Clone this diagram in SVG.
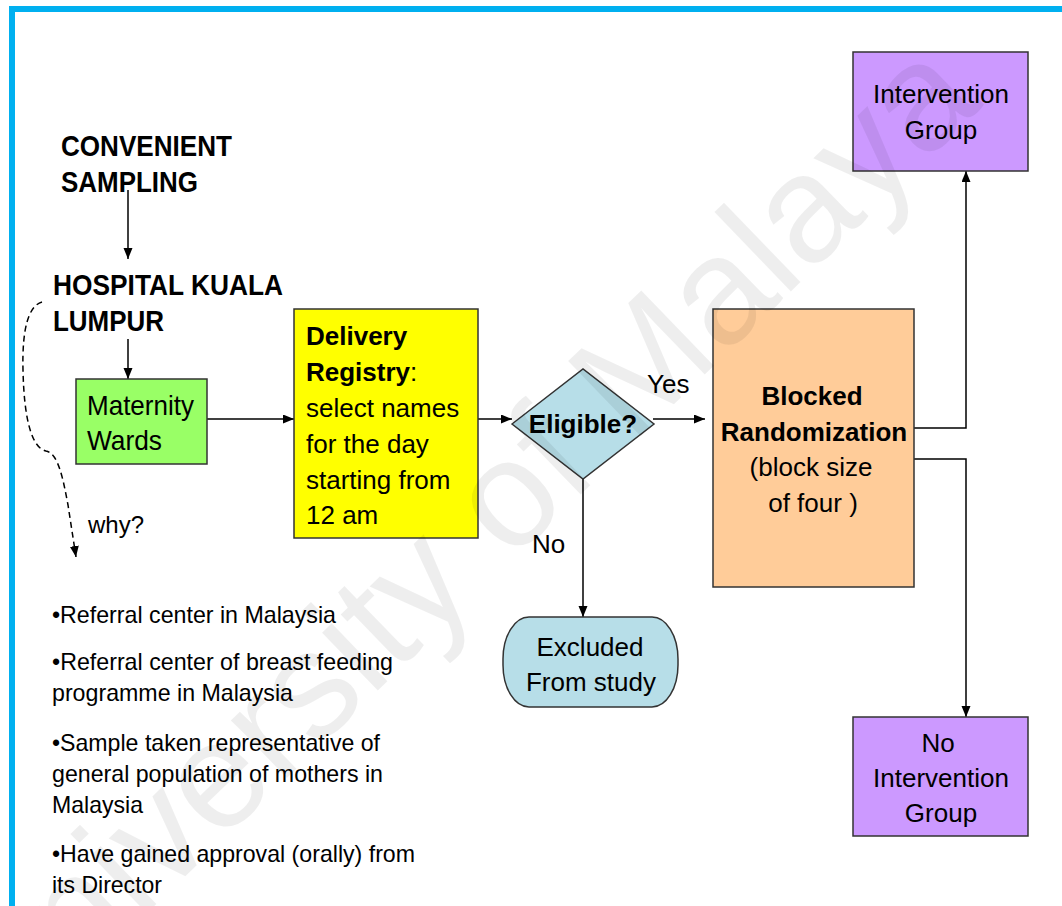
<svg xmlns="http://www.w3.org/2000/svg" width="1062" height="906" viewBox="0 0 1062 906">
  <defs>
    <marker id="arrow" markerUnits="userSpaceOnUse" markerWidth="12" markerHeight="10" refX="11" refY="4.5" orient="auto">
      <path d="M0,0 L11,4.5 L0,9 z" fill="#000"/>
    </marker>
    <style>
      text { font-family: "Liberation Sans", Arial, sans-serif; fill: #000; }
      .head { font-size: 30px; font-weight: bold; }
      .body { font-size: 26px; }
      .bold { font-weight: bold; }
      .note { font-size: 24px; }
      .box { stroke: #333; stroke-width: 1.5; }
      .wire { fill: none; stroke: #000; stroke-width: 1.5; }
      .mark { fill: none; stroke: #000; stroke-width: 1.5; marker-end: url(#arrow); }
    </style>
  </defs>

  <rect width="1062" height="906" fill="#fff"/>
  <!-- frame -->
  <rect x="9" y="6" width="6" height="900" fill="#00b0f0"/>
  <rect x="9" y="6" width="1053" height="6" fill="#00b0f0"/>

  <!-- connectors -->
  <g id="connectors">
    <line class="mark" x1="128" y1="190" x2="128" y2="259"/>
    <line class="mark" x1="128" y1="339" x2="128" y2="379"/>
    <line class="mark" x1="207" y1="419" x2="294" y2="419"/>
    <line class="mark" x1="478" y1="419" x2="512" y2="419"/>
    <line class="mark" x1="653" y1="419" x2="705" y2="419"/>
    <line class="mark" x1="583" y1="479" x2="583" y2="617"/>
    <polyline class="mark" points="914,428 966,428 966,171"/>
    <polyline class="mark" points="914,459 966,459 966,717"/>
    <path class="mark" stroke-dasharray="6,4" d="M42,302 C28,306 22,330 23,370 C24,420 32,448 46,451 C58,453 63,478 68,505 L76,557"/>
  </g>

  <g id="convenient-sampling">
    <text class="head" x="61" y="156" textLength="171" lengthAdjust="spacingAndGlyphs">CONVENIENT</text>
    <text class="head" x="61" y="192" textLength="137" lengthAdjust="spacingAndGlyphs">SAMPLING</text>
  </g>

  <g id="hospital-kuala-lumpur">
    <text class="head" x="53" y="295" textLength="230" lengthAdjust="spacingAndGlyphs">HOSPITAL KUALA</text>
    <text class="head" x="53" y="331" textLength="111" lengthAdjust="spacingAndGlyphs">LUMPUR</text>
  </g>

  <g id="maternity-wards">
    <rect class="box" x="76" y="379" width="131" height="85" fill="#99ff66"/>
    <text x="87" y="415" font-size="28" textLength="107" lengthAdjust="spacingAndGlyphs">Maternity</text>
    <text x="87" y="450" font-size="28" textLength="75" lengthAdjust="spacingAndGlyphs">Wards</text>
  </g>

  <g id="why">
    <text x="88" y="533" font-size="24">why?</text>
  </g>

  <g id="delivery-registry">
    <rect class="box" x="294" y="309" width="184" height="229" fill="#ffff00"/>
    <text class="body bold" x="306" y="345">Delivery</text>
    <text class="body" x="306" y="381"><tspan class="bold">Registry</tspan>:</text>
    <text class="body" x="306" y="417">select names</text>
    <text class="body" x="306" y="453">for the day</text>
    <text class="body" x="306" y="489">starting from</text>
    <text class="body" x="306" y="524">12 am</text>
  </g>

  <g id="eligible">
    <polygon class="box" points="512,424 583,369 654,424 583,479" fill="#b7dee8"/>
    <text class="body bold" x="583" y="433" text-anchor="middle">Eligible?</text>
  </g>

  <g id="label-yes">
    <text class="body" x="647" y="393">Yes</text>
  </g>
  <g id="label-no">
    <text class="body" x="532" y="553">No</text>
  </g>

  <g id="excluded">
    <rect class="box" x="503" y="617" width="175" height="90" rx="26" ry="42" fill="#b7dee8"/>
    <text class="body" x="590" y="656" text-anchor="middle">Excluded</text>
    <text class="body" x="591" y="691" text-anchor="middle">From study</text>
  </g>

  <g id="blocked-randomization">
    <rect class="box" x="713" y="309" width="201" height="278" fill="#ffcc99"/>
    <text class="body bold" x="812" y="405" text-anchor="middle">Blocked</text>
    <text class="body bold" x="814" y="441" text-anchor="middle">Randomization</text>
    <text class="body" x="811" y="476" text-anchor="middle">(block size</text>
    <text class="body" x="813" y="512" text-anchor="middle">of four )</text>
  </g>

  <g id="intervention-group">
    <rect class="box" x="853" y="52" width="175" height="119" fill="#cc99ff"/>
    <text class="body" x="941" y="103" text-anchor="middle">Intervention</text>
    <text class="body" x="941" y="139" text-anchor="middle">Group</text>
  </g>

  <g id="no-intervention-group">
    <rect class="box" x="853" y="717" width="175" height="119" fill="#cc99ff"/>
    <text class="body" x="938" y="752" text-anchor="middle">No</text>
    <text class="body" x="941" y="787" text-anchor="middle">Intervention</text>
    <text class="body" x="941" y="822" text-anchor="middle">Group</text>
  </g>

  <g id="reasons">
    <text class="note" x="52" y="623" textLength="284" lengthAdjust="spacingAndGlyphs">•Referral center in Malaysia</text>
    <text class="note" x="52" y="670" textLength="341" lengthAdjust="spacingAndGlyphs">•Referral center of breast feeding</text>
    <text class="note" x="52" y="701" textLength="241" lengthAdjust="spacingAndGlyphs">programme in Malaysia</text>
    <text class="note" x="52" y="751" textLength="328" lengthAdjust="spacingAndGlyphs">•Sample taken representative of</text>
    <text class="note" x="52" y="782" textLength="331" lengthAdjust="spacingAndGlyphs">general population of mothers in</text>
    <text class="note" x="52" y="813" textLength="91" lengthAdjust="spacingAndGlyphs">Malaysia</text>
    <text class="note" x="52" y="862" textLength="363" lengthAdjust="spacingAndGlyphs">•Have gained approval (orally) from</text>
    <text class="note" x="52" y="893" textLength="110" lengthAdjust="spacingAndGlyphs">its Director</text>
  </g>

  <!-- watermark -->
  <text x="0" y="0" transform="translate(492,580) rotate(-44)" text-anchor="middle" font-size="152" fill="#000" fill-opacity="0.065">University of Malaya</text>
</svg>
